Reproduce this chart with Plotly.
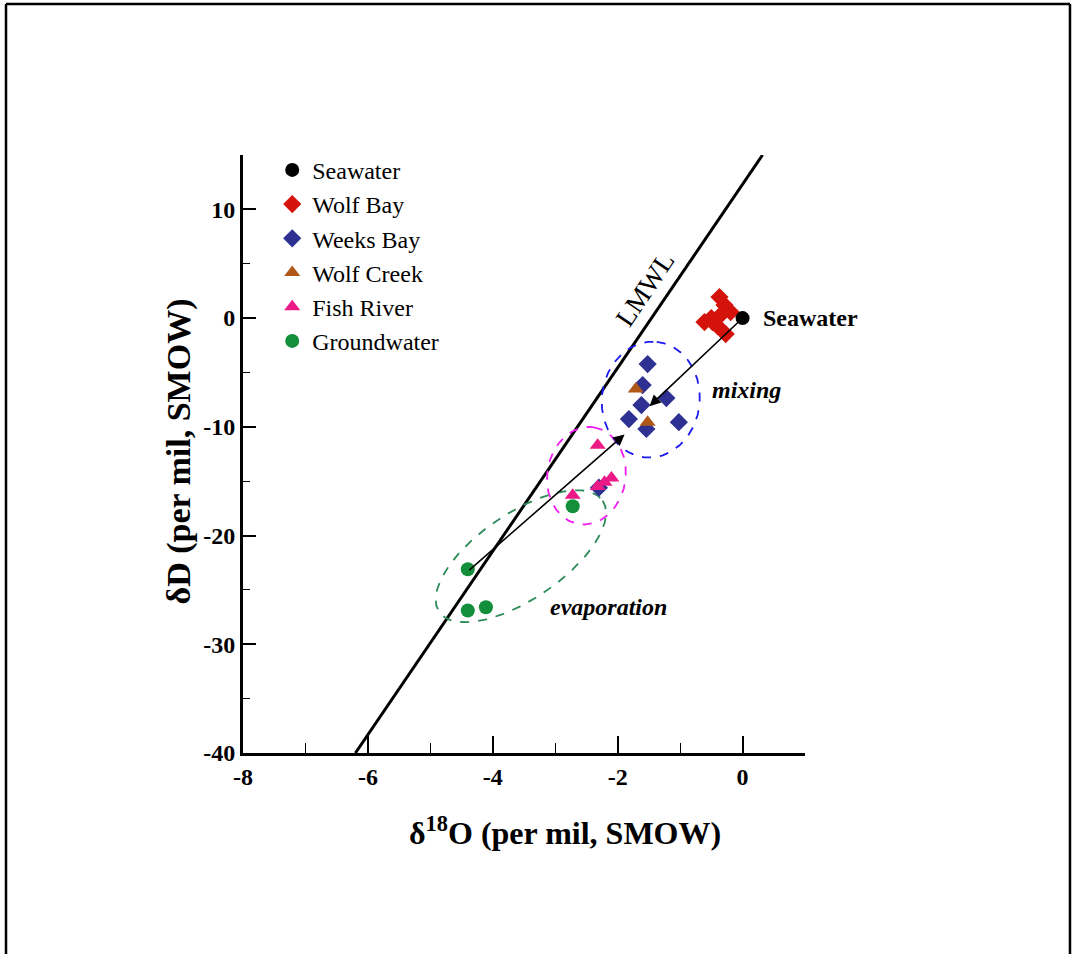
import numpy as np
import plotly.graph_objects as go

# Stable isotope samples: delta-18O (x) and delta-D (y), per mil vs SMOW
seawater_o = [0.0]
seawater_d = [0.0]

wolf_bay_o = [-0.37, -0.29, -0.19, -0.37, -0.48, -0.61, -0.40, -0.27, -0.50]
wolf_bay_d = [1.93, 1.20, 0.55, 0.18, -0.37, -0.37, -0.74, -1.47, 0.0]

weeks_bay_o = [-1.52, -1.60, -1.22, -1.62, -1.82, -1.54, -1.02, -2.30]
weeks_bay_d = [-4.23, -6.16, -7.36, -8.00, -9.29, -10.20, -9.57, -15.6]

wolf_creek_o = [-1.71, -1.52]
wolf_creek_d = [-6.53, -9.57]

fish_river_o = [-2.32, -2.10, -2.21, -2.32, -2.72]
fish_river_d = [-11.7, -14.7, -15.1, -15.5, -16.3]

groundwater_o = [-2.72, -4.40, -4.40, -4.11]
groundwater_d = [-17.3, -23.1, -26.9, -26.6]

# Local meteoric water line end points
lmwl_o = [-6.2, 0.32]
lmwl_d = [-40.0, 15.0]

# Grouping ellipses: centre, two conjugate half-axis vectors (data units)
ellipse_centers = {"weeks": [-1.47, -7.5], "fish": [-2.50, -14.5], "ground": [-3.55, -21.9]}
ellipse_axis_a = {"weeks": [0.096, 5.31], "fish": [0.12, 4.45], "ground": [1.31, 5.10]}
ellipse_axis_b = {"weeks": [0.78, -0.46], "fish": [0.62, -0.56], "ground": [0.38, -3.30]}
ellipse_colors = {"weeks": "#1a1af0", "fish": "#f01ef0", "ground": "#2e8b5a"}

# Arrows: (tail, head)
mixing_arrow = [[0.0, 0.0], [-1.49, -8.1]]
evap_arrow = [[-4.40, -23.3], [-1.89, -10.7]]

x_tick_vals = [-8, -6, -4, -2, 0]
x_tick_text = ["-8", "-6", "-4", "-2", "0"]
y_tick_vals = [-40, -30, -20, -10, 0, 10]
y_tick_text = ["-40", "-30", "-20", "-10", "0", "10"]

SERIF = "Liberation Serif"

fig = go.Figure()

fig.add_trace(go.Scatter(x=lmwl_o, y=lmwl_d, mode="lines",
                         line=dict(color="black", width=3), showlegend=False,
                         hoverinfo="skip"))

t = np.linspace(0, 2 * np.pi, 240)
for key in ["weeks", "fish", "ground"]:
    cx, cy = ellipse_centers[key]
    ax_, ay_ = ellipse_axis_a[key]
    bx_, by_ = ellipse_axis_b[key]
    ex = cx + ax_ * np.cos(t) + bx_ * np.sin(t)
    ey = cy + ay_ * np.cos(t) + by_ * np.sin(t)
    fig.add_trace(go.Scatter(x=ex, y=ey, mode="lines",
                             line=dict(color=ellipse_colors[key], width=1.8, dash="dash"),
                             showlegend=False, hoverinfo="skip"))

series = [
    ("Wolf Bay", wolf_bay_o, wolf_bay_d, "diamond", "#d4140c", 14, 2),
    ("Weeks Bay", weeks_bay_o, weeks_bay_d, "diamond", "#2e3192", 14, 3),
    ("Wolf Creek", wolf_creek_o, wolf_creek_d, "triangle-up", "#b0581a", 14, 4),
    ("Fish River", fish_river_o, fish_river_d, "triangle-up", "#eb1a86", 14, 5),
    ("Groundwater", groundwater_o, groundwater_d, "circle", "#138f3c", 14, 6),
    ("Seawater", seawater_o, seawater_d, "circle", "black", 14, 1),
]
for name, xs, ys, sym, col, size, rank in series:
    fig.add_trace(go.Scatter(x=xs, y=ys, mode="markers", name=name,
                             legendrank=rank, legendgroup=name,
                             marker=dict(symbol=sym, color=col, size=size,
                                         line=dict(width=0))))

annotations = [
    dict(x=mixing_arrow[1][0], y=mixing_arrow[1][1], ax=mixing_arrow[0][0], ay=mixing_arrow[0][1],
         xref="x", yref="y", axref="x", ayref="y", showarrow=True, arrowhead=2,
         arrowsize=1.4, arrowwidth=1.6, arrowcolor="black", text=""),
    dict(x=evap_arrow[1][0], y=evap_arrow[1][1], ax=evap_arrow[0][0], ay=evap_arrow[0][1],
         xref="x", yref="y", axref="x", ayref="y", showarrow=True, arrowhead=2,
         arrowsize=1.4, arrowwidth=1.6, arrowcolor="black", text=""),
    dict(x=0.3, y=0.0, xref="x", yref="y", text="<b>Seawater</b>", showarrow=False,
         xanchor="left", yanchor="middle", font=dict(family=SERIF, size=24, color="black")),
    dict(x=0.06, y=-6.6, xref="x", yref="y", text="<b><i>mixing</i></b>", showarrow=False,
         xanchor="center", yanchor="middle", font=dict(family=SERIF, size=24, color="black")),
    dict(x=-2.14, y=-26.6, xref="x", yref="y", text="<b><i>evaporation</i></b>", showarrow=False,
         xanchor="center", yanchor="middle", font=dict(family=SERIF, size=24, color="black")),
    dict(x=-1.57, y=2.6, xref="x", yref="y", text="LMWL", showarrow=False, textangle=-56,
         xanchor="center", yanchor="middle", font=dict(family=SERIF, size=27, color="black")),
    # axis titles
    dict(x=0.573, y=-0.130, xref="paper", yref="paper",
         text="<b>δ<sup>18</sup>O (per mil, SMOW)</b>", showarrow=False,
         xanchor="center", yanchor="middle", font=dict(family=SERIF, size=32, color="black")),
    dict(x=-0.113, y=0.505, xref="paper", yref="paper",
         text="<b>δD (per mil, SMOW)</b>", showarrow=False, textangle=-90,
         xanchor="center", yanchor="middle", font=dict(family=SERIF, size=34, color="black")),
]

# Outer frame around the figure
frame = [
    dict(type="line", xref="paper", yref="paper", x0=-0.4217, x1=-0.4217, y0=1.2525, y1=-0.40,
         line=dict(color="black", width=2.5)),
    dict(type="line", xref="paper", yref="paper", x0=-0.4217, x1=1.4715, y0=1.2525, y1=1.2525,
         line=dict(color="black", width=2.5)),
    dict(type="line", xref="paper", yref="paper", x0=1.4715, x1=1.4715, y0=1.2525, y1=-0.40,
         line=dict(color="black", width=2.5)),
]

fig.update_layout(
    width=1075, height=954,
    margin=dict(l=243, r=270, t=155, b=201),
    paper_bgcolor="white", plot_bgcolor="white",
    font=dict(family=SERIF, color="black"),
    annotations=annotations,
    shapes=frame,
    showlegend=True,
    legend=dict(x=0.052, y=1.012, xanchor="left", yanchor="top",
                bgcolor="rgba(0,0,0,0)", borderwidth=0,
                font=dict(family=SERIF, size=24, color="black"),
                traceorder="grouped", tracegroupgap=0, itemwidth=30),
    xaxis=dict(range=[-8, 1], showgrid=False, zeroline=False,
               showline=True, linecolor="black", linewidth=3,
               ticks="inside", ticklen=17, tickwidth=2, tickcolor="black",
               tickvals=x_tick_vals, ticktext=x_tick_text,
               tickfont=dict(family=SERIF, size=24, color="black", weight="bold"),
               minor=dict(dtick=1, tick0=0, ticks="inside", ticklen=10, tickwidth=1.2,
                          tickcolor="black", showgrid=False)),
    yaxis=dict(range=[-40, 15], showgrid=False, zeroline=False,
               showline=True, linecolor="black", linewidth=3,
               ticks="inside", ticklen=13, tickwidth=2, tickcolor="black",
               tickvals=y_tick_vals, ticktext=y_tick_text,
               tickfont=dict(family=SERIF, size=24, color="black", weight="bold"),
               minor=dict(dtick=5, tick0=0, ticks="inside", ticklen=7, tickwidth=1.2,
                          tickcolor="black", showgrid=False)),
)

fig.write_html("out.html")
